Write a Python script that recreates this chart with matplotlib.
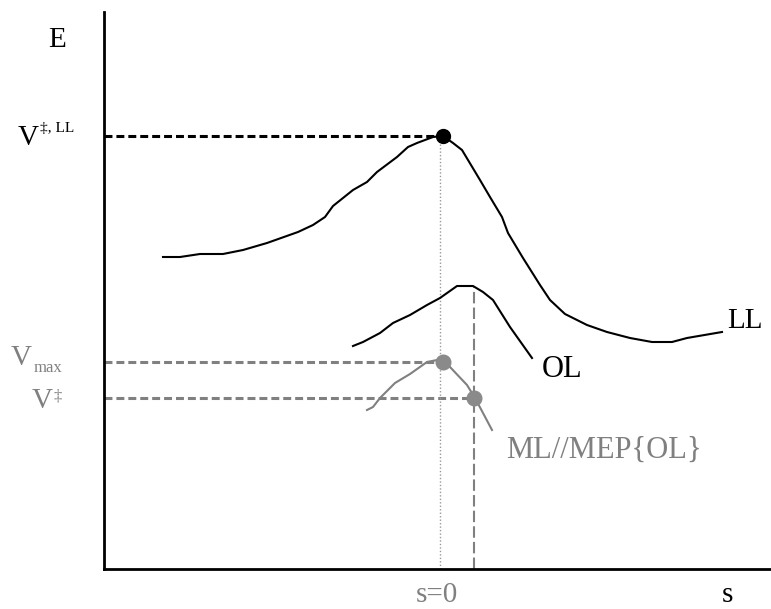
import matplotlib
matplotlib.use('Agg')
import matplotlib.pyplot as plt

plt.rcParams['font.family'] = ['Liberation Serif', 'DejaVu Serif']

#### DATA (s = reaction coordinate, E = energy, arbitrary units) ####
ll_s = [-2.77, -2.60, -2.40, -2.17, -1.97, -1.73, -1.42, -1.27, -1.15, -1.07, -0.87, -0.73,
        -0.63, -0.43, -0.32, -0.23, -0.07, 0.03, 0.13, 0.22, 0.40, 0.50, 0.62, 0.68, 0.83,
        1.00, 1.10, 1.25, 1.47, 1.67, 1.90, 2.12, 2.32, 2.47, 2.82]
ll_E = [3.12, 3.12, 3.15, 3.15, 3.19, 3.26, 3.37, 3.44, 3.52, 3.63, 3.79, 3.87,
        3.97, 4.12, 4.22, 4.26, 4.32, 4.33, 4.26, 4.19, 3.89, 3.72, 3.52, 3.36, 3.11,
        2.84, 2.69, 2.55, 2.44, 2.37, 2.31, 2.27, 2.27, 2.31, 2.37]

ol_s = [-0.87, -0.77, -0.60, -0.47, -0.30, -0.13, 0.00, 0.17, 0.33, 0.43, 0.53, 0.70, 0.92]
ol_E = [2.23, 2.27, 2.36, 2.46, 2.54, 2.64, 2.71, 2.83, 2.83, 2.77, 2.69, 2.42, 2.11]

ml_s = [-0.73, -0.67, -0.60, -0.45, -0.30, -0.13, -0.03, 0.03, 0.10, 0.27, 0.35, 0.43, 0.52]
ml_E = [1.59, 1.62, 1.71, 1.86, 1.95, 2.07, 2.09, 2.07, 2.02, 1.84, 1.71, 1.56, 1.39]

s_ll_ts, V_ts_LL = 0.03, 4.33   # saddle of LL
s_max, V_max = 0.03, 2.07       # max along ML
s_ts, V_ts = 0.34, 1.71         # V double dagger on ML
s_ol_top = 2.83                 # where the dashed drop line starts

xlim = (-3.36, 3.31)
ylim = (0, 5.57)
####################################

W, H = 771, 609
gray = '#808080'

def px(x, y):  # pixel position -> figure fraction
    return x / W, 1 - y / H

fig = plt.figure(figsize=(W / 100, H / 100), dpi=100)
ax = fig.add_axes([104 / W, 40 / H, 667 / W, 557 / H])
ax.set_xlim(*xlim)
ax.set_ylim(*ylim)
for side in ('top', 'right'):
    ax.spines[side].set_visible(False)
for side in ('left', 'bottom'):
    ax.spines[side].set_linewidth(2)
ax.set_xticks([])
ax.set_yticks([])

# guide lines
ax.plot([xlim[0], s_ll_ts], [V_ts_LL, V_ts_LL], color='black', lw=2.2, ls=(0, (2.6, 1.3)))
ax.plot([xlim[0], s_max], [V_max, V_max], color=gray, lw=2.2, ls=(0, (2.6, 1.3)))
ax.plot([xlim[0], s_ts], [V_ts, V_ts], color=gray, lw=2.2, ls=(0, (2.6, 1.3)))
ax.plot([0, 0], [0, V_ts_LL], color='#999999', lw=1, ls=(0, (1, 1.5)))
ax.plot([s_ts, s_ts], [0, s_ol_top], color=gray, lw=1.5, ls=(0, (5.5, 2)))

# curves
ax.plot(ll_s, ll_E, color='black', lw=1.5)
ax.plot(ol_s, ol_E, color='black', lw=1.5)
ax.plot(ml_s, ml_E, color=gray, lw=1.5)

# stationary points
ax.plot(s_ll_ts, V_ts_LL, 'o', color='black', ms=10)
ax.plot([s_max, s_ts], [V_max, V_ts], 'o', color='#8a8a8a', ms=10.5)

# labels
fig.text(*px(57, 40), 'E', ha='center', va='center', size=21)
fig.text(*px(39, 145), 'V', ha='right', va='baseline', size=21)
fig.text(*px(40, 132), '\u2021, LL', ha='left', va='baseline', size=11)

fig.text(*px(32, 365), 'V', ha='right', va='baseline', size=21, color=gray)
fig.text(*px(34, 372), 'max', ha='left', va='baseline', size=12, color=gray)
fig.text(*px(53, 408), 'V', ha='right', va='baseline', size=21, color=gray)
fig.text(*px(54, 400), '\u2021', ha='left', va='baseline', size=12, color=gray)

fig.text(*px(727, 328), 'LL', ha='left', va='baseline', size=21)
fig.text(*px(542, 377), 'OL', ha='left', va='baseline', size=22)
fig.text(*px(506, 458), 'ML//MEP{OL}', ha='left', va='baseline', size=22, color=gray)

fig.text(*px(437, 602), 's=0', ha='center', va='baseline', size=21, color=gray)
fig.text(*px(727, 602), 's', ha='center', va='baseline', size=21)

fig.savefig('out.png', dpi=100)
